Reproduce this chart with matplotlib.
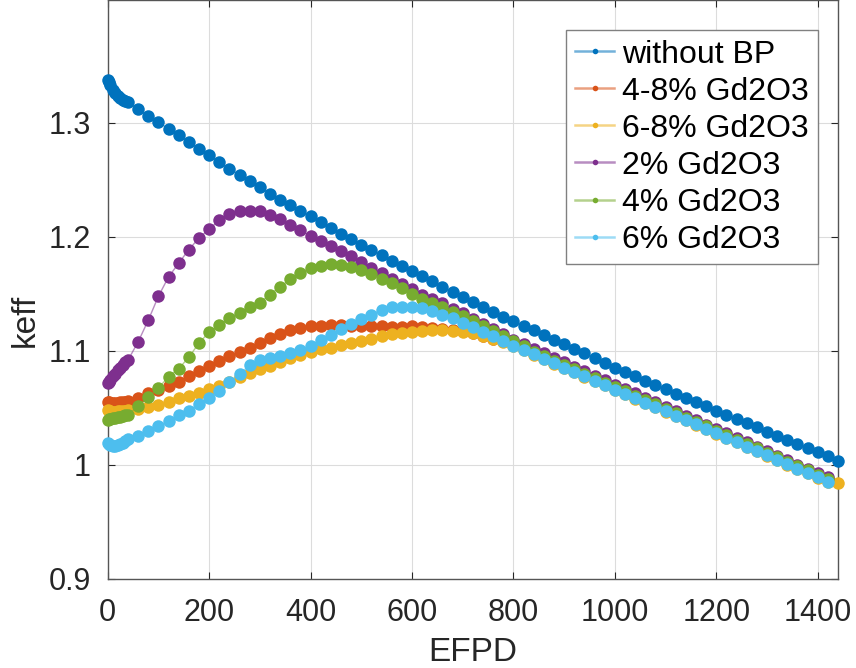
import matplotlib
matplotlib.use("Agg")
import matplotlib.pyplot as plt
from matplotlib.lines import Line2D
from matplotlib.colors import to_rgba

plt.rcParams['font.family'] = ['Liberation Sans', 'DejaVu Sans']

# burnup steps (EFPD): fine steps at start, then every 20 days
efpd = [0, 2, 5, 10, 15, 20, 25, 30, 35, 40] + list(range(60, 1441, 20))

without_bp = [1.338, 1.336, 1.333, 1.329, 1.326, 1.324, 1.322, 1.3205, 1.3195, 1.3185,
              1.312, 1.306, 1.3005, 1.295, 1.2893, 1.2835, 1.2775, 1.2715, 1.266, 1.260,
              1.2545, 1.249, 1.2435, 1.238, 1.2328, 1.2278, 1.2228, 1.218, 1.213, 1.208,
              1.203, 1.198, 1.193, 1.1885, 1.184, 1.179, 1.1745, 1.170, 1.1655, 1.161,
              1.1565, 1.152, 1.1475, 1.143, 1.1385, 1.1345, 1.130, 1.126, 1.122, 1.118,
              1.114, 1.110, 1.106, 1.102, 1.098, 1.094, 1.0895, 1.0855, 1.0817, 1.0779,
              1.0741, 1.0703, 1.0665, 1.0627, 1.059, 1.0552, 1.0514, 1.0476, 1.0439, 1.0402,
              1.0366, 1.033, 1.0293, 1.0257, 1.0221, 1.0185, 1.0148, 1.0112, 1.0075, 1.0035]

gd_4_8 = [1.0556, 1.055, 1.0545, 1.054, 1.054, 1.0545, 1.055, 1.0553, 1.0555, 1.0558,
          1.0585, 1.063, 1.066, 1.0695, 1.0732, 1.078, 1.0825, 1.0868, 1.0908, 1.0955,
          1.0995, 1.1025, 1.107, 1.111, 1.1145, 1.118, 1.1205, 1.1218, 1.122, 1.1225,
          1.1225, 1.1222, 1.122, 1.1218, 1.1215, 1.1213, 1.1213, 1.1215, 1.121, 1.120,
          1.1195, 1.1185, 1.1172, 1.1158, 1.1132, 1.1105, 1.1085, 1.1066, 1.1029, 1.099,
          1.0952, 1.0913, 1.0875, 1.0836, 1.0798, 1.0759, 1.0721, 1.0682, 1.0644, 1.0606,
          1.0567, 1.0529, 1.0491, 1.0452, 1.0414, 1.0376, 1.0337, 1.0299, 1.026, 1.0221,
          1.0182, 1.0143, 1.0104, 1.0065, 1.0026, 0.9987, 0.995, 0.9912, 0.9875]

gd_6_8 = [1.048, 1.0475, 1.047, 1.0468, 1.0468, 1.047, 1.0472, 1.0475, 1.0478, 1.048,
          1.0495, 1.051, 1.0526, 1.055, 1.0585, 1.0605, 1.0635, 1.0668, 1.0695, 1.073,
          1.0775, 1.0805, 1.084, 1.087, 1.0902, 1.0935, 1.0965, 1.0995, 1.1015, 1.103,
          1.105, 1.1068, 1.1085, 1.1108, 1.113, 1.1145, 1.1158, 1.1168, 1.1178, 1.118,
          1.118, 1.1177, 1.117, 1.1157, 1.113, 1.1103, 1.108, 1.1045, 1.1006, 1.0967,
          1.0929, 1.089, 1.0852, 1.0813, 1.0775, 1.0736, 1.0698, 1.0659, 1.0621, 1.0583,
          1.0544, 1.0506, 1.0468, 1.0429, 1.0391, 1.0353, 1.0314, 1.0276, 1.0237, 1.0198,
          1.0159, 1.012, 1.0081, 1.0042, 1.0003, 0.9964, 0.9927, 0.9889, 0.9852, 0.9838]

gd_2 = [1.072, 1.073, 1.075, 1.078, 1.080, 1.083, 1.085, 1.088, 1.090, 1.092,
        1.108, 1.127, 1.148, 1.165, 1.177, 1.189, 1.199, 1.207, 1.2145, 1.2205,
        1.2228, 1.223, 1.2225, 1.219, 1.2155, 1.2105, 1.2058, 1.201, 1.1962, 1.192,
        1.188, 1.1833, 1.178, 1.173, 1.168, 1.1635, 1.1588, 1.154, 1.1495, 1.1455,
        1.1418, 1.137, 1.133, 1.128, 1.124, 1.1195, 1.1145, 1.110, 1.1058, 1.1019,
        1.098, 1.0941, 1.0902, 1.0862, 1.0823, 1.0784, 1.0745, 1.0706, 1.0667, 1.0628,
        1.0589, 1.055, 1.0511, 1.0472, 1.0433, 1.0394, 1.0355, 1.0316, 1.0277, 1.0238,
        1.0199, 1.016, 1.0121, 1.0082, 1.0043, 1.0004, 0.9966, 0.9932, 0.9897]

gd_4 = [1.0395, 1.040, 1.0405, 1.041, 1.0415, 1.042, 1.0425, 1.043, 1.0435, 1.044,
        1.0518, 1.0595, 1.0675, 1.0775, 1.0845, 1.0945, 1.107, 1.1165, 1.123, 1.129,
        1.1335, 1.139, 1.1425, 1.1495, 1.1565, 1.1628, 1.1685, 1.1725, 1.175, 1.176,
        1.1755, 1.1737, 1.1712, 1.1677, 1.163, 1.1595, 1.155, 1.150, 1.146, 1.142,
        1.1385, 1.1345, 1.1305, 1.1262, 1.122, 1.1178, 1.1135, 1.109, 1.1045, 1.0995,
        1.0954, 1.0915, 1.0877, 1.0838, 1.080, 1.0761, 1.0723, 1.0684, 1.0646, 1.0608,
        1.0569, 1.0531, 1.0493, 1.0454, 1.0416, 1.0378, 1.0339, 1.0301, 1.0262, 1.0223,
        1.0184, 1.0145, 1.0106, 1.0067, 1.0028, 0.9989, 0.9952, 0.9914, 0.9877]

gd_6 = [1.0195, 1.0185, 1.0175, 1.017, 1.017, 1.0175, 1.0185, 1.0195, 1.021, 1.0225,
        1.0255, 1.0295, 1.034, 1.0385, 1.0435, 1.0478, 1.0538, 1.059, 1.065, 1.0728,
        1.080, 1.0875, 1.092, 1.0937, 1.0958, 1.0985, 1.101, 1.1045, 1.1095, 1.1143,
        1.119, 1.1235, 1.128, 1.132, 1.1362, 1.1385, 1.139, 1.139, 1.1375, 1.1355,
        1.1315, 1.129, 1.125, 1.1213, 1.117, 1.113, 1.109, 1.1048, 1.1009, 1.097,
        1.0932, 1.0893, 1.0855, 1.0816, 1.0778, 1.0739, 1.0701, 1.0662, 1.0624, 1.0586,
        1.0547, 1.0509, 1.0471, 1.0432, 1.0394, 1.0356, 1.0317, 1.0279, 1.024, 1.0201,
        1.0162, 1.0123, 1.0084, 1.0045, 1.0006, 0.9967, 0.993, 0.9892, 0.9855]

series = [
    ('without BP', without_bp, '#0072BD'),
    ('4-8% Gd2O3', gd_4_8, '#D95319'),
    ('6-8% Gd2O3', gd_6_8, '#EDB120'),
    ('2% Gd2O3', gd_2, '#7E2F8E'),
    ('4% Gd2O3', gd_4, '#77AC30'),
    ('6% Gd2O3', gd_6, '#4DBEEE'),
]

fig = plt.figure(figsize=(8.56, 6.68), dpi=100)
ax = fig.add_axes([107.7 / 856, 1 - 579 / 668, (838 - 107.7) / 856, 579 / 668])

handles = []
for name, vals, c in series:
    ax.plot(efpd[:len(vals)], vals, '-o', color=to_rgba(c, 0.55), mfc=c, mec='none',
            ms=9, lw=1.0, clip_on=False, zorder=3)
    handles.append(Line2D([], [], color=to_rgba(c, 0.55), lw=1.8, marker='o',
                          ms=4, mfc=c, mec='none'))

ax.set_xlim(0, 1440)
ax.set_ylim(0.9, 0.9 + 579 / 1140)
ax.set_xticks(range(0, 1401, 200))
ax.set_yticks([0.9, 1.0, 1.1, 1.2, 1.3])
ax.set_yticklabels(['0.9', '1', '1.1', '1.2', '1.3'])

ax.grid(True, color='#dcdcdc', lw=0.8)
ax.set_axisbelow(True)
for s in ax.spines.values():
    s.set_color('#555555')
    s.set_linewidth(1.0)
ax.tick_params(direction='in', length=5, width=0.8, color='#262626',
               top=True, right=True, labelsize=22, labelcolor='#262626')
ax.tick_params(axis='x', pad=14)
ax.tick_params(axis='y', pad=12)

ax.set_xlabel('EFPD', fontsize=24, color='#262626', labelpad=6)
ax.set_ylabel('keff', fontsize=24, color='#262626')
ax.yaxis.set_label_coords(-0.092, (579 - 320) / 579)

leg = ax.legend(handles, [s[0] for s in series], loc='upper right',
                bbox_to_anchor=(818 / 856, 1 - 30 / 668), bbox_transform=fig.transFigure,
                borderaxespad=0, fontsize=23, fancybox=False, framealpha=1,
                edgecolor='#808080', handlelength=1.2, handletextpad=0.25,
                labelspacing=0.22, borderpad=0.3)
leg.get_frame().set_linewidth(1.0)

fig.savefig('out.png', dpi=100)
